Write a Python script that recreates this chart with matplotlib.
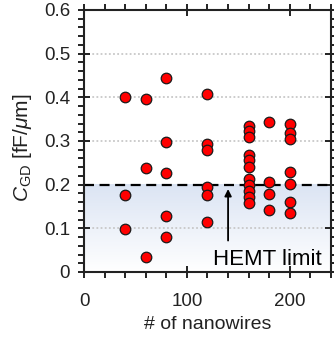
import numpy as np
import matplotlib
matplotlib.use("Agg")
import matplotlib.pyplot as plt
from matplotlib.ticker import MultipleLocator, FuncFormatter

plt.rcParams['font.family'] = ['Liberation Sans', 'DejaVu Sans']
plt.rcParams['mathtext.fontset'] = 'custom'
plt.rcParams['mathtext.rm'] = 'Liberation Sans'
plt.rcParams['mathtext.it'] = 'Liberation Sans:italic'

# Measured C_GD per device, grouped by nanowire count
nanowires = [40, 40, 40,
             60, 60, 60,
             80, 80, 80, 80, 80,
             120, 120, 120, 120, 120, 120,
             160, 160, 160, 160, 160, 160, 160, 160, 160, 160, 160,
             180, 180, 180, 180,
             200, 200, 200, 200, 200, 200, 200]
cgd = [0.401, 0.177, 0.098,
       0.396, 0.239, 0.034,
       0.444, 0.297, 0.227, 0.128, 0.079,
       0.408, 0.294, 0.279, 0.195, 0.176, 0.115,
       0.334, 0.323, 0.308, 0.268, 0.256, 0.241, 0.214, 0.199, 0.186, 0.172, 0.159,
       0.344, 0.206, 0.178, 0.143,
       0.339, 0.319, 0.304, 0.228, 0.201, 0.161, 0.135]
hemt_limit = 0.2
x_ticks = [0, 100, 200]
y_ticks = [0, 0.1, 0.2, 0.3, 0.4, 0.5, 0.6]

fig = plt.figure(figsize=(3.34, 3.38), dpi=100)
ax = fig.add_axes([0.2515, 0.1953, 0.7395, 0.7752])
xmax, ymax = 240, 0.6
ax.set_xlim(0, xmax)
ax.set_ylim(0, ymax)

# shaded region below the HEMT limit, fading to white at zero
grad = np.linspace(0, 1, 256).reshape(-1, 1)
top = np.array([0.86, 0.895, 0.955])
img = np.ones((256, 1, 3)) * (1 - grad[..., None]) + top * grad[..., None]
ax.imshow(img, extent=[0, xmax, 0, hemt_limit], origin='lower', aspect='auto',
          zorder=0, interpolation='bilinear')

# dotted horizontal grid
for yv in y_ticks[1:-1]:
    if yv != hemt_limit:
        ax.axhline(yv, color='#c8c8c8', lw=1.3, ls=(0, (1, 1.3)), zorder=1)

ax.axhline(hemt_limit, color='black', lw=1.6, ls=(0, (4.5, 2.5)), zorder=2)

ax.plot(nanowires, cgd, 'o', ms=7.6, mfc='#ff0000', mec='#1a1a1a', mew=0.9, zorder=3)

ax.annotate('', xy=(140, 0.19), xytext=(140, 0.072),
            arrowprops=dict(arrowstyle='-|>', color='black', lw=1.3,
                            mutation_scale=10, shrinkA=0, shrinkB=0), zorder=4)
ax.text(231, 0.015, 'HEMT limit', fontsize=16, ha='right', va='baseline', zorder=4)

ax.xaxis.set_minor_locator(MultipleLocator(20))
ax.yaxis.set_minor_locator(MultipleLocator(0.02))
ax.set_xticks(x_ticks)
ax.set_yticks(y_ticks)
ax.yaxis.set_major_formatter(FuncFormatter(lambda v, p: '0' if abs(v) < 1e-9 else f'{v:.1f}'))

ax.tick_params(which='major', direction='inout', length=8, width=1.4,
               top=True, right=True, labelsize=13.5, color='#222222',
               labelcolor='#222222')
ax.tick_params(axis='x', which='major', pad=11)
ax.tick_params(axis='y', which='major', pad=6)
ax.tick_params(which='minor', direction='out', length=4, width=1.4,
               top=True, right=True, color='#222222')
for s in ax.spines.values():
    s.set_linewidth(1.5)
    s.set_color('#222222')

ax.set_xlabel('# of nanowires', fontsize=14, color='#222222', va='center')
ax.set_ylabel(r'$C_{\mathrm{GD}}$ [fF/$\mu$m]', fontsize=15, color='#222222', va='center')
ax.xaxis.set_label_coords(0.5, -0.2015)
ax.yaxis.set_label_coords(-0.25, 0.475)

fig.savefig('out.png', dpi=100)
